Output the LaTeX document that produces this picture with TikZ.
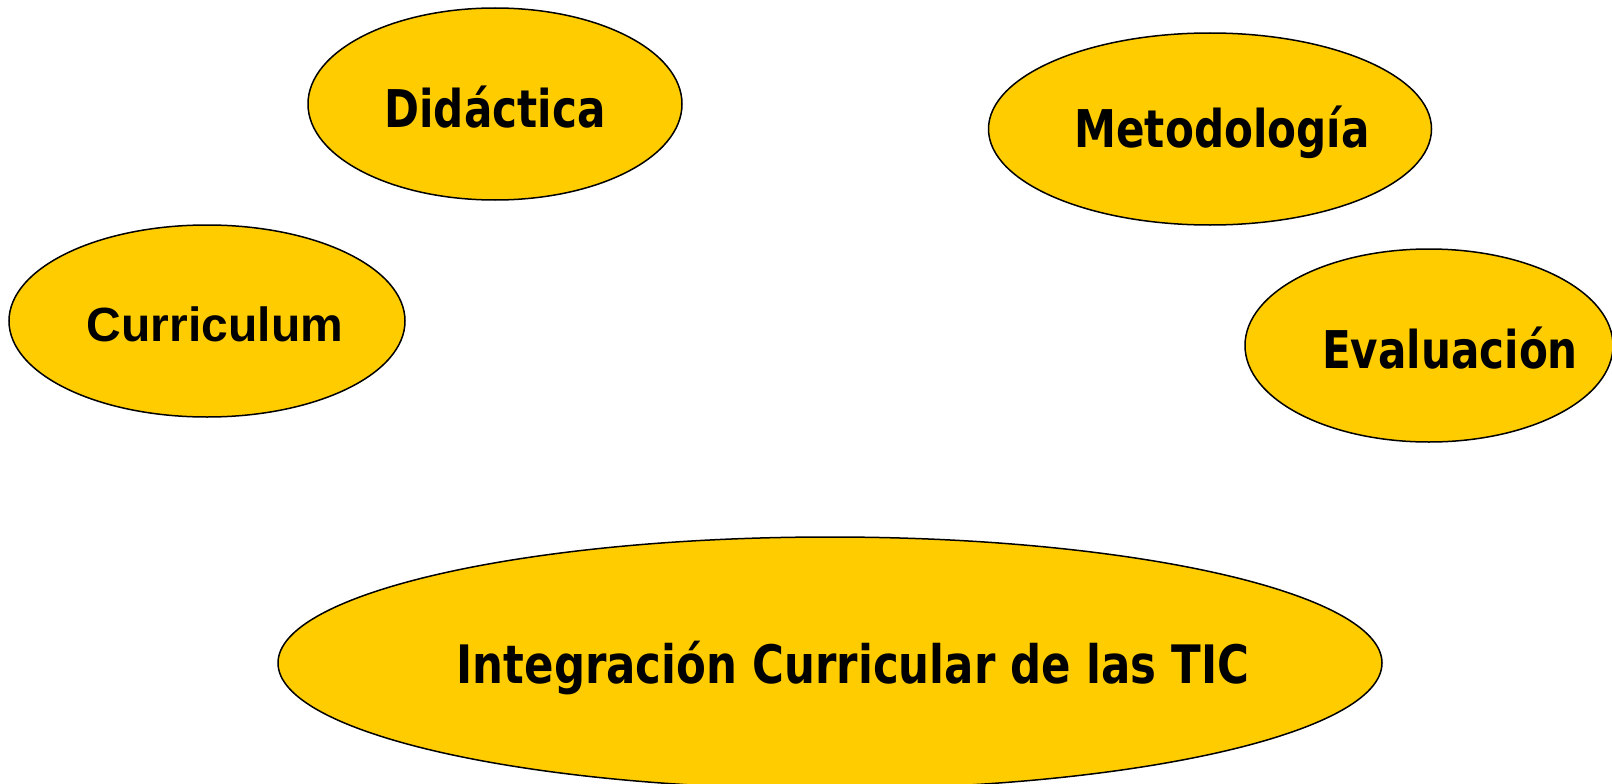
\documentclass[tikz,border=0pt]{standalone}
\usepackage{fontspec}
\usetikzlibrary{shapes.geometric}
\newfontfamily\tahoma[FakeStretch=0.81]{DejaVu Sans}
\newfontfamily\tahomaw[FakeStretch=0.82]{DejaVu Sans}
\newfontfamily\arialb{Liberation Sans}
\definecolor{tic}{RGB}{255,204,0}

\begin{document}
\begin{tikzpicture}[x=1pt,y=-1pt,
                blob/.style={ellipse, draw=black, line width=1.5pt, fill=tic, inner sep=0pt},
                lbl/.style={font=\tahoma\bfseries\fontsize{52}{60}\selectfont, yshift=-3pt},
                lblw/.style={font=\tahomaw\bfseries\fontsize{53}{60}\selectfont, yshift=-5pt},
                lblc/.style={font=\arialb\bfseries\fontsize{48}{56}\selectfont, yshift=-3pt}
                ]
                \useasboundingbox (0,0) rectangle (1612,784);
                \node [blob, minimum width=374pt, minimum height=192pt,
                       label={[lbl]center:Didáctica}] (did) at (495,104) {};
                \node [blob, minimum width=443pt, minimum height=192pt,
                       label={[lbl, xshift=12pt]center:Metodología}] (met) at (1210,129) {};
                \node [blob, minimum width=396pt, minimum height=192pt,
                       label={[lblc, xshift=8pt]center:Curriculum}] (cur) at (207,321) {};
                \node [blob, minimum width=368pt, minimum height=193pt,
                       label={[lbl, xshift=21pt]center:Evaluación}] (eva) at (1429,345.5) {};
                \node [blob, minimum width=1104pt, minimum height=252pt,
                       label={[lblw, xshift=23pt]center:Integración Curricular de las TIC}] (tic) at (830,663) {};
\end{tikzpicture}
\end{document}
